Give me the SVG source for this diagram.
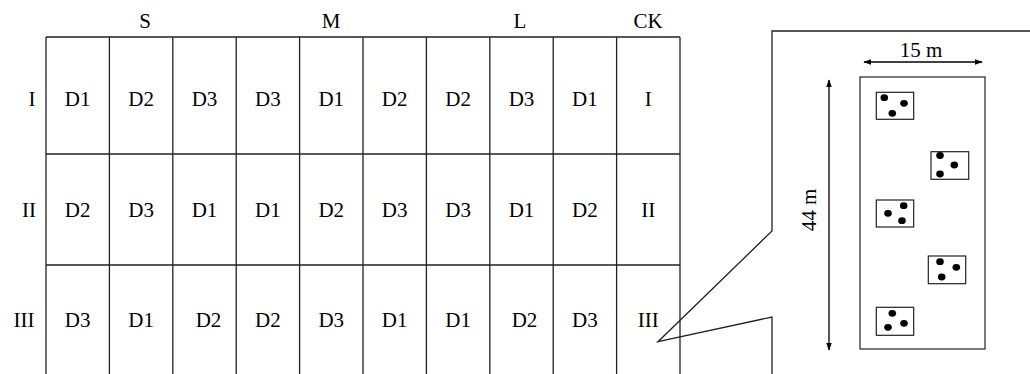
<svg xmlns="http://www.w3.org/2000/svg" width="1030" height="374" viewBox="0 0 1030 374">
<style>
text{font-family:"Liberation Serif","Times New Roman",serif;font-size:21px;fill:#000;text-anchor:middle}
.g{stroke:#222;stroke-width:1.3;fill:none}
.b{stroke:#222;stroke-width:1.2;fill:#fff}
.d{fill:#000}
</style>
<defs>
<marker id="ah" viewBox="0 0 10 10" refX="9" refY="5" markerWidth="8" markerHeight="8" markerUnits="userSpaceOnUse" orient="auto-start-reverse">
<path d="M0,1.5 L10,5 L0,8.5 Z" fill="#000"/>
</marker>
</defs>
<rect width="1030" height="374" fill="#fff"/>
<g id="grid">
<path class="g" d="M46,37H680 M46,154H680 M46,265H680 M46,37V374 M109.4,37V374 M172.8,37V374 M236.2,37V374 M299.6,37V374 M363,37V374 M426.4,37V374 M489.8,37V374 M553.2,37V374 M616.6,37V374 M680,37V374"/>
</g>
<g id="headers">
<text x="145" y="28">S</text>
<text x="331" y="28">M</text>
<text x="520" y="28">L</text>
<text x="648" y="28">CK</text>
<text x="32" y="106">I</text>
<text x="29" y="217">II</text>
<text x="24" y="327">III</text>
</g>
<g id="row1">
<text x="77.7" y="106">D1</text><text x="141.1" y="106">D2</text><text x="204.5" y="106">D3</text><text x="267.9" y="106">D3</text><text x="331.3" y="106">D1</text><text x="394.7" y="106">D2</text><text x="458.1" y="106">D2</text><text x="521.5" y="106">D3</text><text x="584.9" y="106">D1</text><text x="648.3" y="106">I</text>
</g>
<g id="row2">
<text x="77.7" y="217">D2</text><text x="141.1" y="217">D3</text><text x="204.5" y="217">D1</text><text x="267.9" y="217">D1</text><text x="331.3" y="217">D2</text><text x="394.7" y="217">D3</text><text x="458.1" y="217">D3</text><text x="521.5" y="217">D1</text><text x="584.9" y="217">D2</text><text x="648.3" y="217">II</text>
</g>
<g id="row3">
<text x="77.7" y="327">D3</text><text x="141.1" y="327">D1</text><text x="208.5" y="327">D2</text><text x="267.9" y="327">D2</text><text x="331.3" y="327">D3</text><text x="394.7" y="327">D1</text><text x="458.1" y="327">D1</text><text x="524.5" y="327">D2</text><text x="584.9" y="327">D3</text><text x="648.3" y="327">III</text>
</g>
<g id="connectors">
<path class="g" d="M1030,31H772V231L658,341.7L772,317V374" stroke-linejoin="miter"/>
<line x1="864" y1="62" x2="982" y2="62" stroke="#000" stroke-width="1.3" marker-start="url(#ah)" marker-end="url(#ah)"/>
<line x1="829" y1="80" x2="829" y2="350" stroke="#000" stroke-width="1.3" marker-start="url(#ah)" marker-end="url(#ah)"/>
</g>
<g id="plot">
<rect class="b" x="860" y="77" width="125" height="272"/>
<text x="921" y="57">15 m</text>
<text transform="translate(816,210) rotate(-90)">44 m</text>
</g>
<g id="sub1"><rect class="b" x="876.3" y="92.3" width="37.4" height="27"/><ellipse class="d" cx="884.3" cy="97.7" rx="3.8" ry="3.4"/><ellipse class="d" cx="904" cy="103.3" rx="3.8" ry="3.4"/><ellipse class="d" cx="892.3" cy="113.3" rx="3.8" ry="3.4"/></g>
<g id="sub2"><rect class="b" x="931" y="151.7" width="37.7" height="27.6"/><ellipse class="d" cx="940" cy="155.5" rx="3.8" ry="3.4"/><ellipse class="d" cx="954.3" cy="165" rx="3.8" ry="3.4"/><ellipse class="d" cx="940" cy="174" rx="3.8" ry="3.4"/></g>
<g id="sub3"><rect class="b" x="876.3" y="200" width="37.4" height="27"/><ellipse class="d" cx="888" cy="213.3" rx="3.8" ry="3.4"/><ellipse class="d" cx="903.7" cy="205.7" rx="3.8" ry="3.4"/><ellipse class="d" cx="902" cy="220.7" rx="3.8" ry="3.4"/></g>
<g id="sub4"><rect class="b" x="928.3" y="256" width="37.4" height="27.7"/><ellipse class="d" cx="940" cy="261.7" rx="3.8" ry="3.4"/><ellipse class="d" cx="956.3" cy="267.3" rx="3.8" ry="3.4"/><ellipse class="d" cx="941.7" cy="277" rx="3.8" ry="3.4"/></g>
<g id="sub5"><rect class="b" x="876.3" y="307.3" width="37.4" height="28"/><ellipse class="d" cx="892.3" cy="313.3" rx="3.8" ry="3.4"/><ellipse class="d" cx="888" cy="327.3" rx="3.8" ry="3.4"/><ellipse class="d" cx="904" cy="323.3" rx="3.8" ry="3.4"/></g>
</svg>
